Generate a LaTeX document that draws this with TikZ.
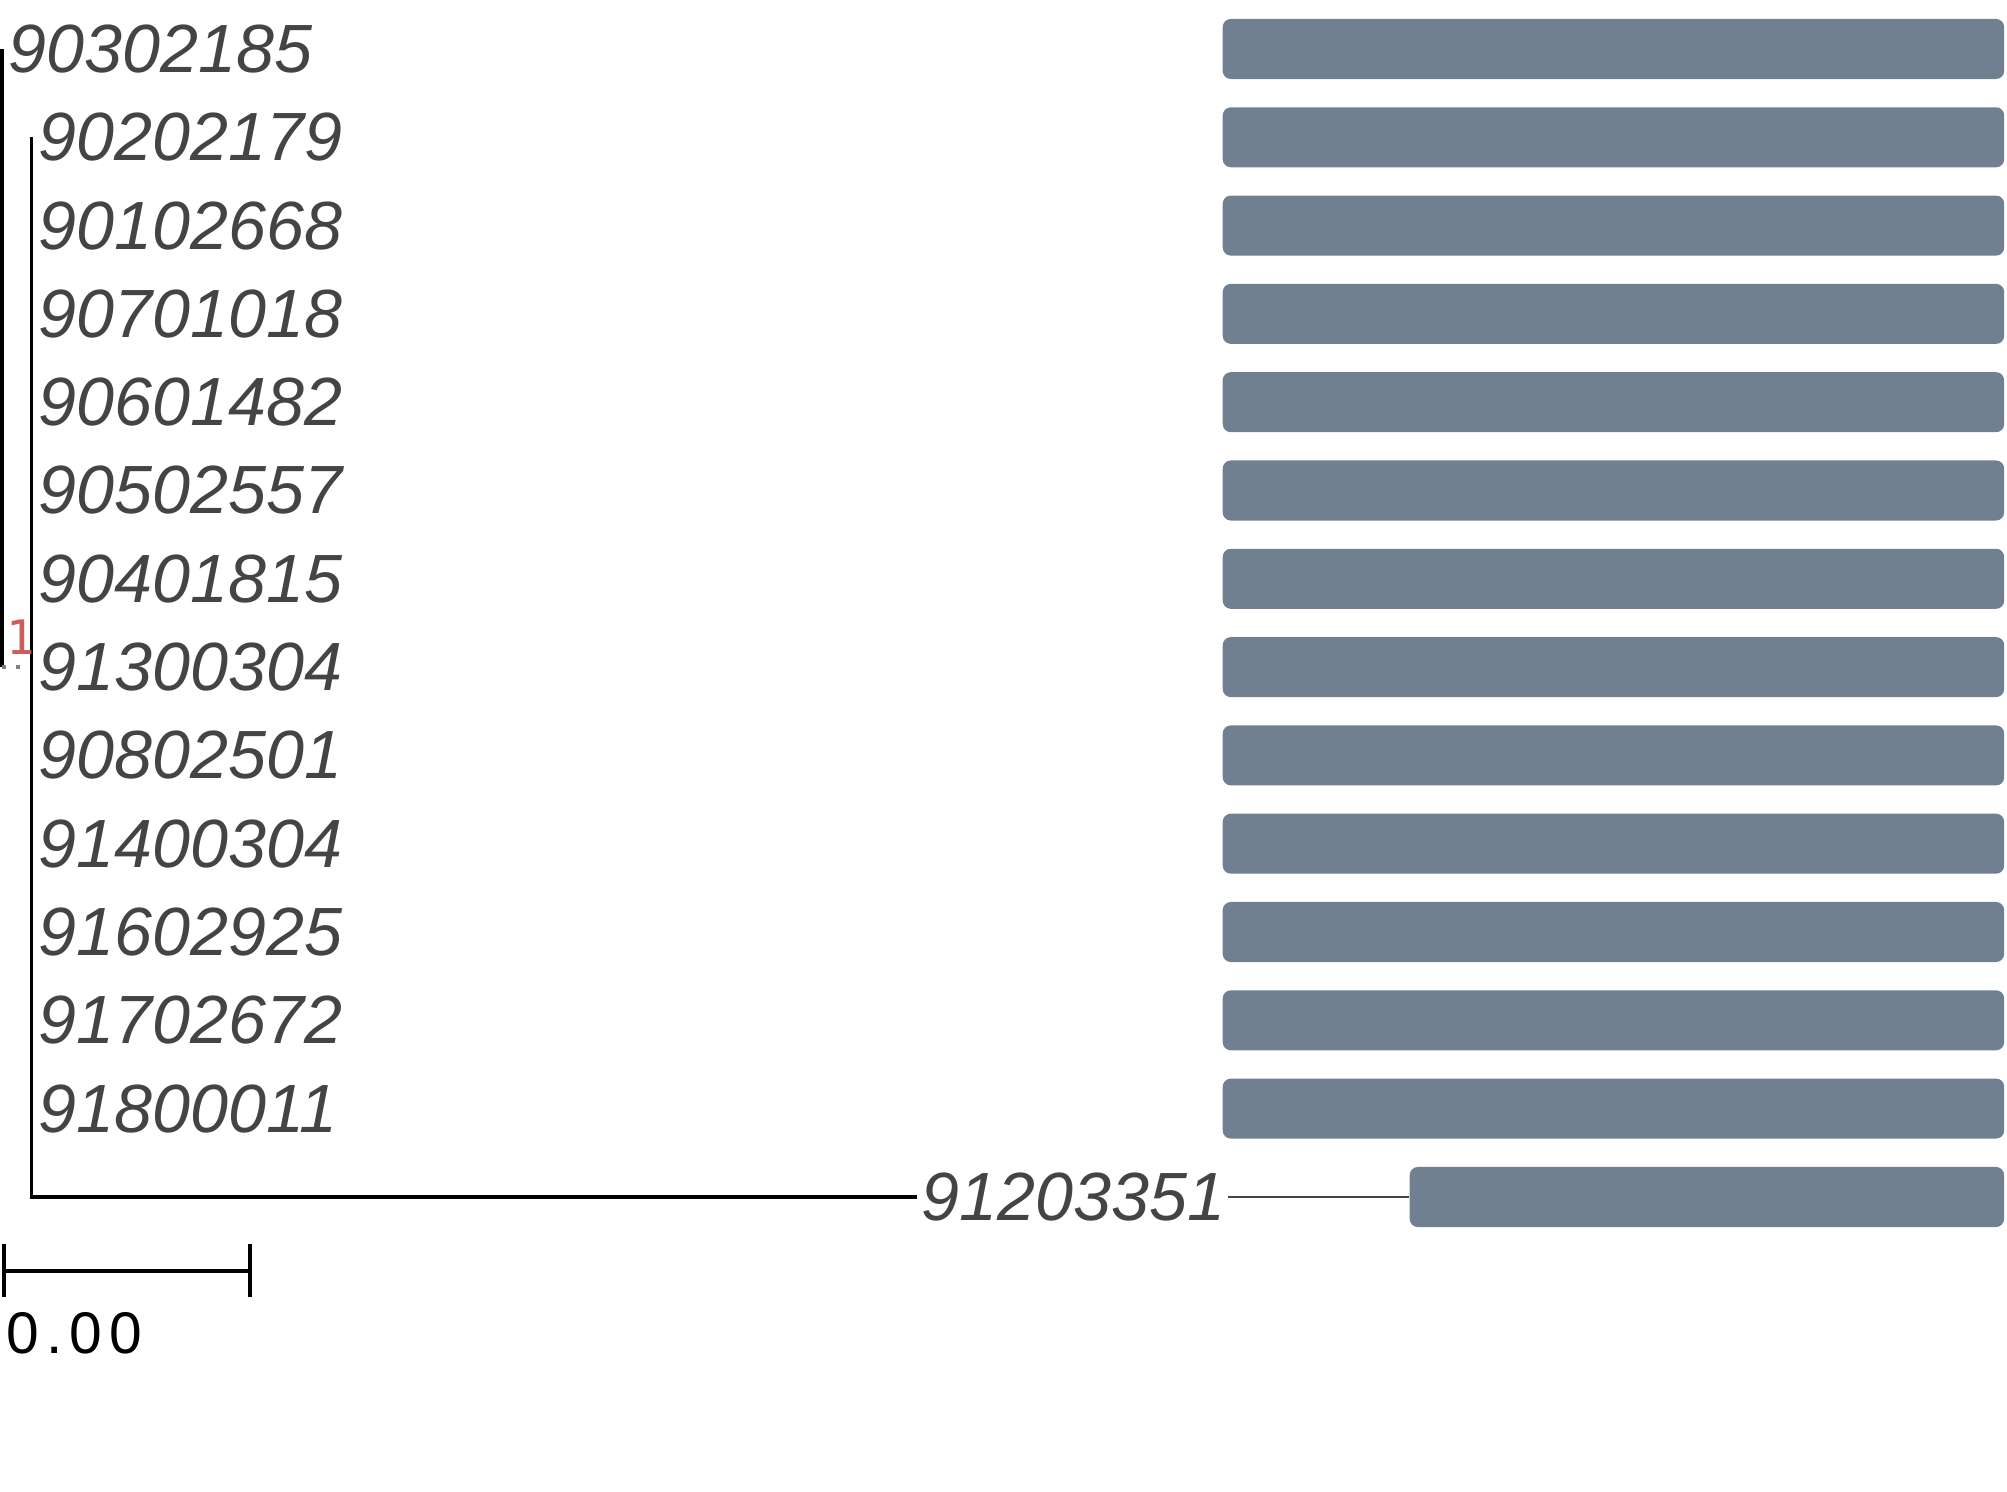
\documentclass[tikz,border=0pt]{standalone}
\usepackage{fontspec}
\setmainfont{Liberation Sans}
\newfontfamily\scalebarfont[LetterSpace=12]{Liberation Sans}
\newfontfamily\bootfont{DejaVu Sans Mono}
\definecolor{tipgray}{RGB}{68,68,68}
\definecolor{barslate}{RGB}{112,128,144}
\definecolor{bootred}{RGB}{205,92,92}

\begin{document}
\begin{tikzpicture}[x=0.01cm, y=-0.01cm,
    tip/.style={anchor=west, inner sep=0pt, text=tipgray, font=\fontsize{19.4}{23}\selectfont\itshape},
    bar/.style={fill=barslate, rounded corners=2.3pt, anchor=west, inner sep=0pt, minimum height=0.6cm},
    branch/.style={line width=1.1pt},
    guide/.style={line width=0.35pt, draw=tipgray},
  ]
        \useasboundingbox (0,0) rectangle (2007,1492);

        \coordinate (root) at (2,667);
        \coordinate (inner) at (31.5,667);
        \coordinate (t1) at (2,49);
        \coordinate (top) at (31.5,137.3);
        \coordinate (corner) at (31.5,1197);
        \coordinate (t14) at (917,1197);

        \node [tip] (l1) at (8,49) {90302185};
        \node [bar, minimum width=7.81cm] (b1) at (1222,49) {};

        \foreach \lab [count=\i from 2] in {90202179,90102668,90701018,90601482,90502557,90401815,91300304,90802501,91400304,91602925,91702672,91800011} {
          \node [tip] (l\i) at (38,{49+88.3*(\i-1)}) {\lab};
          \node [bar, minimum width=7.81cm] (b\i) at (1222,{49+88.3*(\i-1)}) {};
        }

        \node [tip] (l14) at (921,1197) {91203351};
        \node [bar, minimum width=5.94cm] (b14) at (1409,1197) {};

        \draw [branch] (t1) -- (root);
        \draw [line width=1pt, draw=gray, dash pattern=on 1pt off 3pt] (root) -- (inner);
        \draw [branch] (top) -- (corner) -- (t14);
        \draw [guide] (l14.east) ++(2,0) -- (b14.west);

        \node [text=bootred, font=\fontsize{13.5}{16}\bootfont, inner sep=0pt] (boot) at (20.5,637) {1};

        \coordinate (sbl) at (4,1271);
        \coordinate (sbr) at (250,1271);
        \draw [line width=1pt] (sbl) -- (sbr);
        \draw [line width=1pt] ([yshift=-0.26cm]sbl) -- ([yshift=0.27cm]sbl);
        \draw [line width=1pt] ([yshift=-0.26cm]sbr) -- ([yshift=0.27cm]sbr);
        \node [anchor=west, inner sep=0pt, font=\fontsize{16.7}{20}\scalebarfont] (sblab) at (6,1333) {0.00};
      \end{tikzpicture}
\end{document}
